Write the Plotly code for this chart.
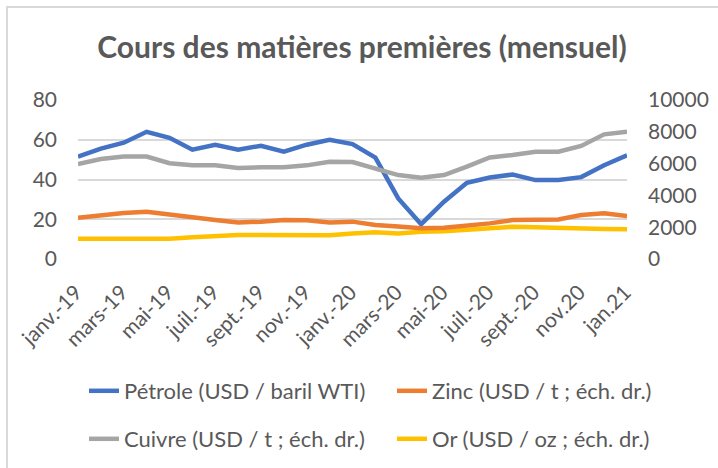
import plotly.graph_objects as go

months = ["janv.-19", "févr.-19", "mars-19", "avr.-19", "mai-19", "juin-19", "juil.-19",
          "août-19", "sept.-19", "oct.-19", "nov.-19", "déc.-19", "janv.-20", "févr.-20",
          "mars-20", "avr.-20", "mai-20", "juin-20", "juil.-20", "août-20", "sept.-20",
          "oct.-20", "nov.20", "déc.20", "jan.21"]
tick_labels = months[::2]

petrole = [51.5, 55.5, 58.5, 64, 61, 55, 57.5, 55, 57, 54, 57.5, 60, 57.8, 51,
           30.5, 17.5, 28.8, 38.3, 41, 42.5, 39.7, 39.7, 41.2, 47.2, 52.2]
zinc = [2600, 2770, 2900, 2970, 2770, 2620, 2450, 2290, 2350, 2450, 2430, 2290, 2350, 2140,
        2050, 1930, 1970, 2070, 2240, 2450, 2490, 2490, 2770, 2870, 2700]
cuivre = [5975, 6290, 6440, 6440, 6020, 5890, 5890, 5720, 5770, 5770, 5890, 6120, 6100, 5720,
          5280, 5110, 5280, 5810, 6390, 6540, 6750, 6750, 7110, 7840, 8010]
or_ = [1280, 1290, 1290, 1280, 1275, 1365, 1445, 1510, 1510, 1500, 1490, 1500, 1610, 1680,
       1610, 1720, 1740, 1820, 1930, 2030, 1990, 1930, 1900, 1880, 1870]

names = ["Pétrole (USD / baril WTI)", "Zinc (USD / t ; éch. dr.)",
         "Cuivre (USD / t ; éch. dr.)", "Or (USD / oz ; éch. dr.)"]
colors = ["#4472C4", "#ED7D31", "#A5A5A5", "#FFC000"]

FONT = "Lato"
TXT = "#595959"
LW = 4.5

fig = go.Figure()
fig.add_trace(go.Scatter(x=months, y=or_, name=names[3], yaxis="y2", mode="lines",
                         line=dict(color=colors[3], width=LW), legend="legend4", showlegend=True))
fig.add_trace(go.Scatter(x=months, y=zinc, name=names[1], yaxis="y2", mode="lines",
                         line=dict(color=colors[1], width=LW), legend="legend2", showlegend=True))
fig.add_trace(go.Scatter(x=months, y=cuivre, name=names[2], yaxis="y2", mode="lines",
                         line=dict(color=colors[2], width=LW), legend="legend3", showlegend=True))
fig.add_trace(go.Scatter(x=months, y=petrole, name=names[0], yaxis="y", mode="lines",
                         line=dict(color=colors[0], width=LW), legend="legend", showlegend=True))

L, R, T, B = 78, 91, 100, 209
W, H = 718, 468
pw, ph = W - L - R, H - T - B

def px_x(p):
    return (p - L) / pw

def px_y(p):
    return (H - B - p) / ph

leg_common = dict(font=dict(family=FONT, size=22, color=TXT), bgcolor="rgba(0,0,0,0)",
                  xanchor="left", yanchor="middle", orientation="h",
                  xref="container", yref="container")

fig.update_layout(
    width=W, height=H,
    showlegend=True,
    margin=dict(l=L, r=R, t=T, b=B, autoexpand=False),
    paper_bgcolor="white", plot_bgcolor="white",
    font=dict(family=FONT, color=TXT),
    title=dict(text="<b>Cours des matières premières (mensuel)</b>",
               x=362 / W, xanchor="center", xref="container",
               y=1 - 47 / H, yanchor="middle", yref="container",
               font=dict(family=FONT, size=30, color=TXT)),
    xaxis=dict(type="category", tickmode="array", tickvals=tick_labels, ticktext=tick_labels,
               tickangle=-45, showgrid=False, showline=False, zeroline=False,
               tickfont=dict(family=FONT, size=21, color=TXT), ticks="",
               ticklabelstandoff=16, ticklabelshift=-2, automargin=False),
    yaxis=dict(range=[0, 80], dtick=20, showgrid=True, gridcolor="#D9D9D9", gridwidth=1.5,
               zeroline=False, showline=False, ticks="", automargin=False,
               tickfont=dict(family=FONT, size=21, color=TXT), ticklabelstandoff=20),
    yaxis2=dict(range=[0, 10000], dtick=2000, overlaying="y", side="right", showgrid=False,
                zeroline=False, showline=False, ticks="", automargin=False, tickformat="d",
                tickfont=dict(family=FONT, size=21, color=TXT), ticklabelstandoff=20),
    legend=dict(x=84 / W, y=1 - 391 / H, **leg_common),
    legend2=dict(x=392 / W, y=1 - 391 / H, **leg_common),
    legend3=dict(x=84 / W, y=1 - 439 / H, **leg_common),
    legend4=dict(x=392 / W, y=1 - 439 / H, **leg_common),
    shapes=[dict(type="rect", xref="paper", yref="paper",
                 x0=px_x(7), x1=px_x(740), y0=px_y(490), y1=px_y(7),
                 line=dict(color="#D9D9D9", width=2), fillcolor="rgba(0,0,0,0)",
                 layer="below")],
)

fig.write_html("out.html", config={"displayModeBar": False},
               post_script="document.body.style.margin='0';")
